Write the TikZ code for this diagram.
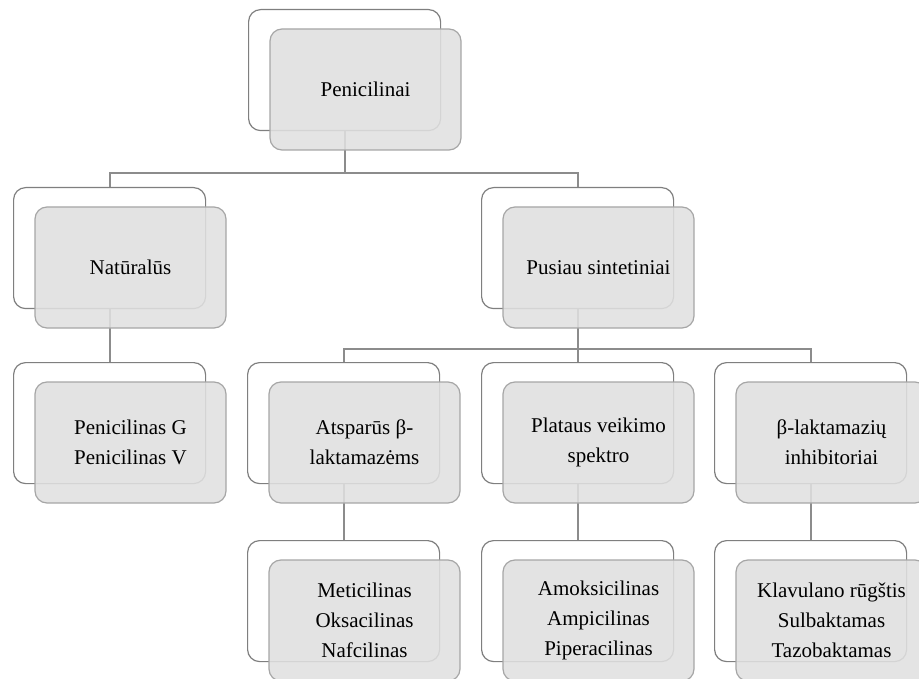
\documentclass[tikz,border=0pt]{standalone}
\usepackage{fontspec}
\setmainfont{Liberation Serif}
\definecolor{backline}{HTML}{7F7F7F}
\definecolor{frontline}{HTML}{A6A6A6}
\definecolor{frontfill}{HTML}{E0E0E0}
\definecolor{connline}{HTML}{8C8C8C}
\tikzset{
  backbox/.style={draw=backline, line width=1.2pt, fill=white, rounded corners=12pt,
    minimum width=192pt, minimum height=121pt, anchor=north west, inner sep=0pt},
  frontbox/.style={draw=frontline, line width=1.2pt, fill=frontfill, fill opacity=0.88, text opacity=1,
    rounded corners=12pt, minimum width=191pt, minimum height=121pt, inner sep=0pt,
    align=center, font=\fontsize{21}{30}\selectfont},
  conn/.style={draw=connline, line width=2pt}
}
\begin{document}
\begin{tikzpicture}[x=1pt,y=1pt]
\useasboundingbox (0,0) rectangle (919,-679);
% back boxes
\node[backbox] (pb) at (248,-9) {};
\node[backbox] (nb) at (13,-187) {};
\node[backbox] (sb) at (481,-187) {};
\node[backbox] (gb) at (13,-362) {};
\node[backbox] (ab) at (247,-362) {};
\node[backbox] (bb) at (481,-362) {};
\node[backbox] (cb) at (714,-362) {};
\node[backbox] (a4b) at (247,-540) {};
\node[backbox] (b4b) at (481,-540) {};
\node[backbox] (c4b) at (714,-540) {};
% connectors
\draw[conn] (pb.south) -- ++(0,-42) -| (nb.north);
\draw[conn] (pb.south) -- ++(0,-42) -| (sb.north);
\draw[conn] (nb.south) -- (gb.north);
\draw[conn] (sb.south) -- ++(0,-40) -| (ab.north);
\draw[conn] (sb.south) -- (bb.north);
\draw[conn] (sb.south) -- ++(0,-40) -| (cb.north);
\draw[conn] (ab.south) -- (a4b.north);
\draw[conn] (bb.south) -- (b4b.north);
\draw[conn] (cb.south) -- (c4b.north);
% front boxes
\node[frontbox] (p) at ([shift={(117.5,-80.5)}]pb.north west) {Penicilinai};
\node[frontbox] (n) at ([shift={(117.5,-80.5)}]nb.north west) {Natūralūs};
\node[frontbox] (s) at ([shift={(117.5,-80.5)}]sb.north west) {Pusiau sintetiniai};
\node[frontbox] (g) at ([shift={(117.5,-80.5)}]gb.north west) {Penicilinas G\\Penicilinas V};
\node[frontbox] (a) at ([shift={(117.5,-80.5)}]ab.north west) {Atsparūs β-\\laktamazėms};
\node[frontbox] (b) at ([shift={(117.5,-80.5)}]bb.north west) {Plataus veikimo\\spektro};
\node[frontbox] (c) at ([shift={(117.5,-80.5)}]cb.north west) {β-laktamazių\\inhibitoriai};
\node[frontbox] (a4) at ([shift={(117.5,-80.5)}]a4b.north west) {Meticilinas\\Oksacilinas\\Nafcilinas};
\node[frontbox] (b4) at ([shift={(117.5,-80.5)}]b4b.north west) {Amoksicilinas\\Ampicilinas\\Piperacilinas};
\node[frontbox] (c4) at ([shift={(117.5,-80.5)}]c4b.north west) {Klavulano rūgštis\\Sulbaktamas\\Tazobaktamas};
\end{tikzpicture}
\end{document}
